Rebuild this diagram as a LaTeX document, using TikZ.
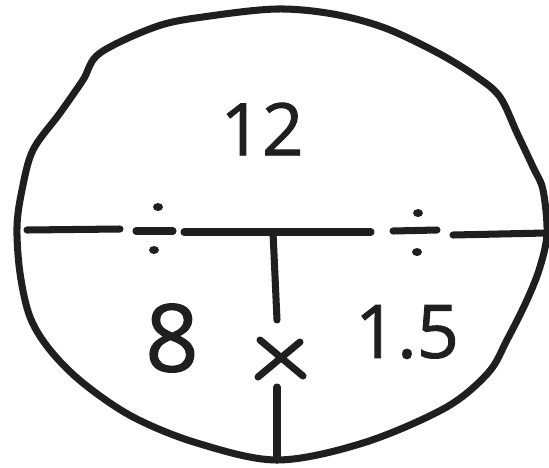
\documentclass[tikz,border=0pt]{standalone}
\usepackage{fontspec}
\setmainfont{Open Sans}
\newfontfamily\numfont[FakeBold=1.2]{Open Sans}
\begin{document}
\begin{tikzpicture}[x=0.03cm,y=-0.03cm,
  ink/.style={line width=6pt,line cap=round,line join=round,draw=black!88},
  dotmark/.style={fill=black!88,draw=none},
  num/.style={inner sep=0pt,text=black!88}]
\useasboundingbox[fill=white] (0,0) rectangle (549,468);
% outline
\draw[ink] plot[smooth cycle,tension=0.55] coordinates {
 (277,9) (333,14) (385,28) (438,53) (477,77) (500,97) (517,133) (533,167)
 (543,190) (547,233) (540,267) (527,300) (507,340) (488,373) (445,408)
 (363,443) (277,460) (197,443) (133,417) (83,383) (50,350) (30,317)
 (20,273) (17,227) (22,190) (33,150) (60,113) (83,80) (100,53) (158,26) (210,16)};
% horizontal line pieces
\coordinate (hl0) at (27,230);
\coordinate (hl1) at (120,229);
\coordinate (hm0) at (184,232);
\coordinate (hm1) at (371,232);
\coordinate (hr0) at (453,235);
\coordinate (hr1) at (546,233);
\draw[ink] (hl0) -- (hl1);
\draw[ink] (hm0) -- (hm1);
\draw[ink] (hr0) -- (hr1);
% division signs
\coordinate (dl0) at (136,231);
\coordinate (dl1) at (173,231);
\coordinate (dr0) at (393,231);
\coordinate (dr1) at (437,230);
\draw[ink] (dl0) -- (dl1);
\draw[ink] (dr0) -- (dr1);
\fill[dotmark] (158,207) ellipse (5 and 4);
\fill[dotmark] (154,250) ellipse (5 and 4);
\fill[dotmark] (418,213) ellipse (5 and 4);
\fill[dotmark] (417,252) ellipse (5 and 4);
% vertical line
\coordinate (v0) at (273,232);
\coordinate (v1) at (277,320);
\coordinate (v2) at (277,387);
\coordinate (v3) at (277,460);
\draw[ink] (v0) -- (v1);
\draw[ink] (v2) -- (v3);
% multiplication sign
\coordinate (x0) at (260,340);
\coordinate (x1) at (303,376);
\coordinate (x2) at (300,342);
\coordinate (x3) at (258,377);
\draw[ink] (x0) -- (x1);
\draw[ink] (x2) -- (x3);
% numbers
\node[num,font=\numfont\fontsize{62}{62}\selectfont] (n12) at (262,129) {12};
\node[num,font=\numfont\fontsize{80}{80}\selectfont] (n8) at (172,338) {8};
\node[num,font=\numfont\fontsize{63}{63}\selectfont] (n15) at (407,332) {1.5};
\end{tikzpicture}
\end{document}
